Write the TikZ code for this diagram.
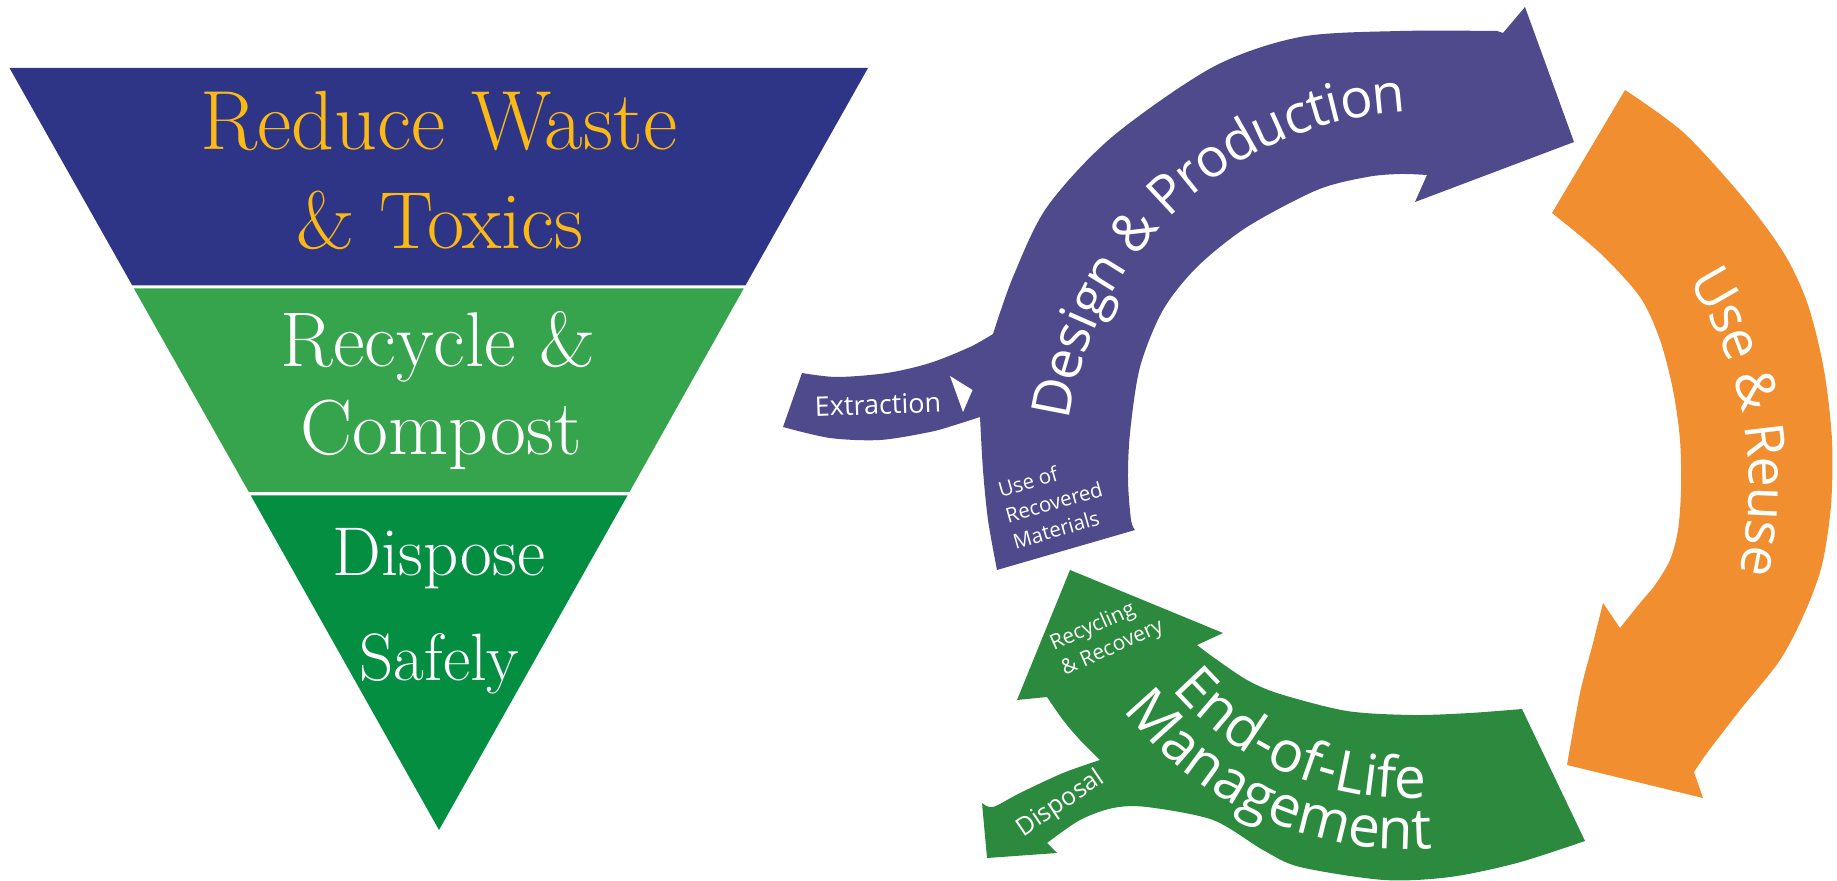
\documentclass[tikz,border=0pt]{standalone}
\usepackage{fontspec}
\usetikzlibrary{decorations.text}
\newfontfamily\osans{Open Sans}
\newcommand\myfs[2]{\fontsize{#1}{#2}\selectfont}
\definecolor{navy}{HTML}{2E3586}
\definecolor{gold}{HTML}{FDB913}
\definecolor{lgreen}{HTML}{36A44D}
\definecolor{dgreen}{HTML}{038E42}
\definecolor{purp}{HTML}{4F4A8C}
\definecolor{orng}{HTML}{F18E2F}
\definecolor{cgreen}{HTML}{2C8A3E}
\begin{document}
\begin{tikzpicture}[x=0.5pt,y=-0.5pt,
  lbl/.style={inner sep=0pt, text=white},
  tri/.style={inner sep=0pt, anchor=base},
  arctext/.style={decorate, decoration={text along path, text align=center, text color=white, text={#1}}}
]
\useasboundingbox (0,0) rectangle (1837,881);

% ---------- inverted triangle ----------
\fill[navy] (9.5,68) -- (868,68) -- (745.4,285.5) -- (132.3,285.5) -- cycle;
\fill[lgreen] (133.9,288.5) -- (743.7,288.5) -- (629.5,492) -- (248.8,492) -- cycle;
\fill[dgreen] (250.8,495.5) -- (627.5,495.5) -- (439,830) -- cycle;

\node[tri, text=gold, font=\myfs{42pt}{42pt}] (t1) at (439,150) {Reduce Waste};
\node[tri, text=gold, font=\myfs{40.5pt}{40.5pt}] (t2) at (440,248.7) {\& Toxics};
\node[tri, text=white, font=\myfs{38.8pt}{38.8pt}] (t3) at (438,367) {Recycle \&};
\node[tri, text=white, font=\myfs{39pt}{39pt}] (t4) at (441,455) {Compost};
\node[tri, text=white, font=\myfs{34.5pt}{34.5pt}] (t5) at (439,575.7) {Dispose};
\node[tri, text=white, font=\myfs{33.5pt}{33.5pt}] (t6) at (439.5,680.6) {Safely};

% ---------- purple arrow: Design & Production ----------
\fill[purp] (997,570)
 -- plot[smooth] coordinates {(997,570) (988,520) (983,470) (980,417)}
 -- plot[smooth] coordinates {(980,417) (955,425) (930,432) (880,440) (830,438) (783,427)}
 -- (802,373)
 -- plot[smooth] coordinates {(802,373) (837,377) (887,373) (930,363) (970,347) (993,334)}
 -- plot[smooth] coordinates {(993,334) (1013,277) (1047,207) (1112,137) (1213,67) (1300,37) (1400,31) (1497,31)}
 -- (1503,33) -- (1525,7) -- (1574,142) -- (1415,202) -- (1427,175)
 -- plot[smooth] coordinates {(1427,175) (1400,174) (1367,177) (1317,190) (1247,227) (1197,267) (1163,310) (1140,367) (1130,433) (1128,480) (1131,520) (1135,530)}
 -- cycle;
\fill[white] (950,376) -- (972.5,390) -- (963,412) -- cycle;

% ---------- orange arrow: Use & Reuse ----------
\fill[orng] (1552,213) -- (1625,90)
 -- plot[smooth] coordinates {(1625,90) (1684,133) (1745,200) (1785,255) (1808,305) (1824,370) (1832,440) (1831,505) (1822,565) (1805,612) (1780,660) (1740,710) (1707,753) (1694,772)}
 -- (1703,798) -- (1567,765)
 -- plot[smooth] coordinates {(1567,765) (1580,693) (1593,643) (1603,603)}
 -- (1620,628)
 -- plot[smooth] coordinates {(1620,628) (1640,603) (1655,585) (1670,560) (1678,530) (1681,490) (1680,440) (1673,390) (1660,340) (1640,297) (1600,253) (1552,213)}
 -- cycle;

% ---------- green arrow: End-of-Life Management ----------
\fill[cgreen] (1522,709) -- (1585,841)
 -- plot[smooth] coordinates {(1585,841) (1517,863) (1450,877) (1384,880) (1300,867) (1263,850) (1213,820) (1147,807) (1113,808) (1080,820) (1047,843)}
 -- (1057,853) -- (987,858) -- (982,803)
 -- plot[smooth] coordinates {(982,803) (993,807) (1020,793) (1063,773) (1100,760)}
 -- plot[smooth] coordinates {(1100,760) (1080,740) (1063,720) (1047,697)}
 -- (1017,700) -- (1070,570) -- (1223,633) -- (1197,645)
 -- plot[smooth] coordinates {(1197,645) (1213,657) (1247,680) (1280,694) (1347,711) (1413,715) (1470,713) (1522,709)}
 -- cycle;

% ---------- curved labels ----------
\path[arctext={|\osans\myfs{27pt}{27pt}|Design {\&} Production}, decoration={raise=-8pt}]
  (1425,470) ++(180:375) arc[start angle=180, end angle=275, radius=375];
\path[arctext={|\osans\myfs{27pt}{27pt}|Use {\&} Reuse}, decoration={raise=-8pt}]
  (1371,486) ++(-50:394) arc[start angle=-50, end angle=30.4, radius=394];
\path[arctext={|\osans\myfs{28.5pt}{28.5pt}|End-of-Life}]
  (1408,487) ++(150:311) arc[start angle=150, end angle=76, radius=311];
\path[arctext={|\osans\myfs{28.5pt}{28.5pt}|Management}]
  (1408,487) ++(150:362) arc[start angle=150, end angle=78, radius=362];

% ---------- small labels ----------
\node[lbl, font=\osans\myfs{13.5pt}{13.5pt}, rotate=2] (extr) at (878,404.5) {Extraction};
\node[lbl, font=\osans\myfs{10.25pt}{13.5pt}, align=left, rotate=16] (uor) at (1054,502) {Use of\\Recovered\\Materials};
\node[lbl, font=\osans\myfs{10.5pt}{13.5pt}, align=left, rotate=24] (rr) at (1107,636) {Recycling\\\& Recovery};
\node[lbl, font=\osans\myfs{12.5pt}{12.5pt}, rotate=34] (disp) at (1061,804) {Disposal};
\end{tikzpicture}
\end{document}
